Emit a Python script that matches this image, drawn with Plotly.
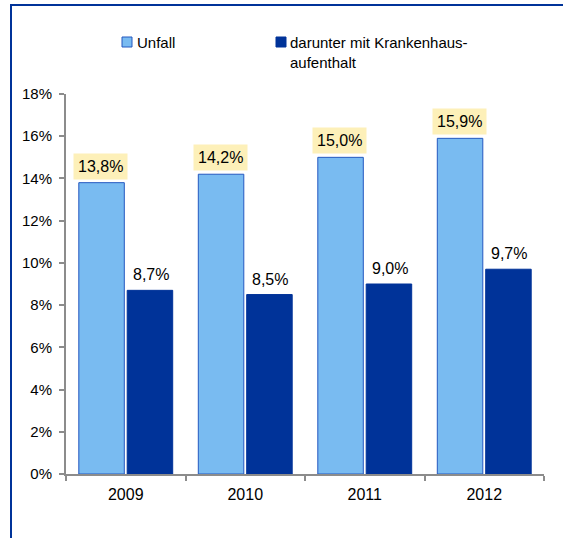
import plotly.graph_objects as go

years = ["2009", "2010", "2011", "2012"]
unfall = [13.8, 14.2, 15.0, 15.9]
krankenhaus = [8.7, 8.5, 9.0, 9.7]
series_names = ["Unfall", "darunter mit Krankenhaus-<br>aufenthalt"]
series_colors = ["#79BBF1", "#003399"]
series_edges = ["#2458C0", "#003399"]
y_ticks = [0, 2, 4, 6, 8, 10, 12, 14, 16, 18]

FONT = "Liberation Sans, Arial, sans-serif"
W, H = 563, 538
ML, MR, MT, MB = 66, 19, 94, 64
PW, PH = W - ML - MR, H - MT - MB


def px_x(px):
    return (px - ML) / PW


def px_y(py):
    return 1 - (py - MT) / PH


def fmt(v):
    return f"{v:.1f}".replace(".", ",") + "%"


fig = go.Figure()
for vals, name, col, edge in zip([unfall, krankenhaus], series_names, series_colors, series_edges):
    fig.add_trace(go.Bar(
        x=years, y=vals, name=name, showlegend=False,
        marker=dict(color=col, line=dict(color=edge, width=1)),
    ))

# value labels (category index positions on the category axis)
for i, v in enumerate(unfall):
    fig.add_annotation(x=i, y=v, xref="x", yref="y", text=fmt(v), showarrow=False,
                       xshift=-25, yshift=3, yanchor="bottom", bgcolor="#FDF0B9",
                       borderpad=4, font=dict(family=FONT, size=16, color="#000000"))
for i, v in enumerate(krankenhaus):
    fig.add_annotation(x=i, y=v, xref="x", yref="y", text=fmt(v), showarrow=False,
                       xshift=25, yshift=5, yanchor="bottom",
                       font=dict(family=FONT, size=16, color="#000000"))

# manual legend
legend_pos = [(122, 136), (276, 289)]
for (sx, tx), name, col, edge in zip(legend_pos, series_names, series_colors, series_edges):
    fig.add_shape(type="rect", xref="paper", yref="paper",
                  x0=px_x(sx), x1=px_x(sx + 10), y0=px_y(47), y1=px_y(37),
                  fillcolor=col, line=dict(color=edge, width=1))
    fig.add_annotation(x=px_x(tx), y=px_y(33), xref="paper", yref="paper", text=name,
                       showarrow=False, xanchor="left", yanchor="top", align="left",
                       borderpad=0, font=dict(family=FONT, size=15, color="#000000"))

# outer frame
fig.add_shape(type="rect", xref="paper", yref="paper",
              x0=px_x(11), x1=px_x(600), y0=px_y(600), y1=px_y(5),
              line=dict(color="#003399", width=2), fillcolor="rgba(0,0,0,0)", layer="below")

fig.update_layout(
    width=W, height=H,
    margin=dict(l=ML, r=MR, t=MT, b=MB),
    paper_bgcolor="white", plot_bgcolor="white",
    barmode="group", bargap=0.19, bargroupgap=0.06,
    font=dict(family=FONT, color="#000000"),
)
fig.update_xaxes(
    type="category", showline=True, linecolor="#8C8C8C", linewidth=2,
    ticks="outside", tickson="boundaries", ticklen=5, tickcolor="#8C8C8C", tickwidth=2,
    tickfont=dict(size=16, family=FONT, color="#000000"), showgrid=False, zeroline=False,
    ticklabelstandoff=5,
)
fig.update_yaxes(
    range=[0, 18], tickvals=y_ticks, ticktext=[f"{t}%" for t in y_ticks],
    showline=True, linecolor="#8C8C8C", linewidth=2,
    ticks="outside", ticklen=5, tickcolor="#8C8C8C", tickwidth=2,
    tickfont=dict(size=15, family=FONT, color="#000000"), showgrid=False, zeroline=False,
    ticklabelstandoff=4,
)

fig.write_html("out.html", config={"displayModeBar": False},
               post_script="document.body.style.margin='0';")
